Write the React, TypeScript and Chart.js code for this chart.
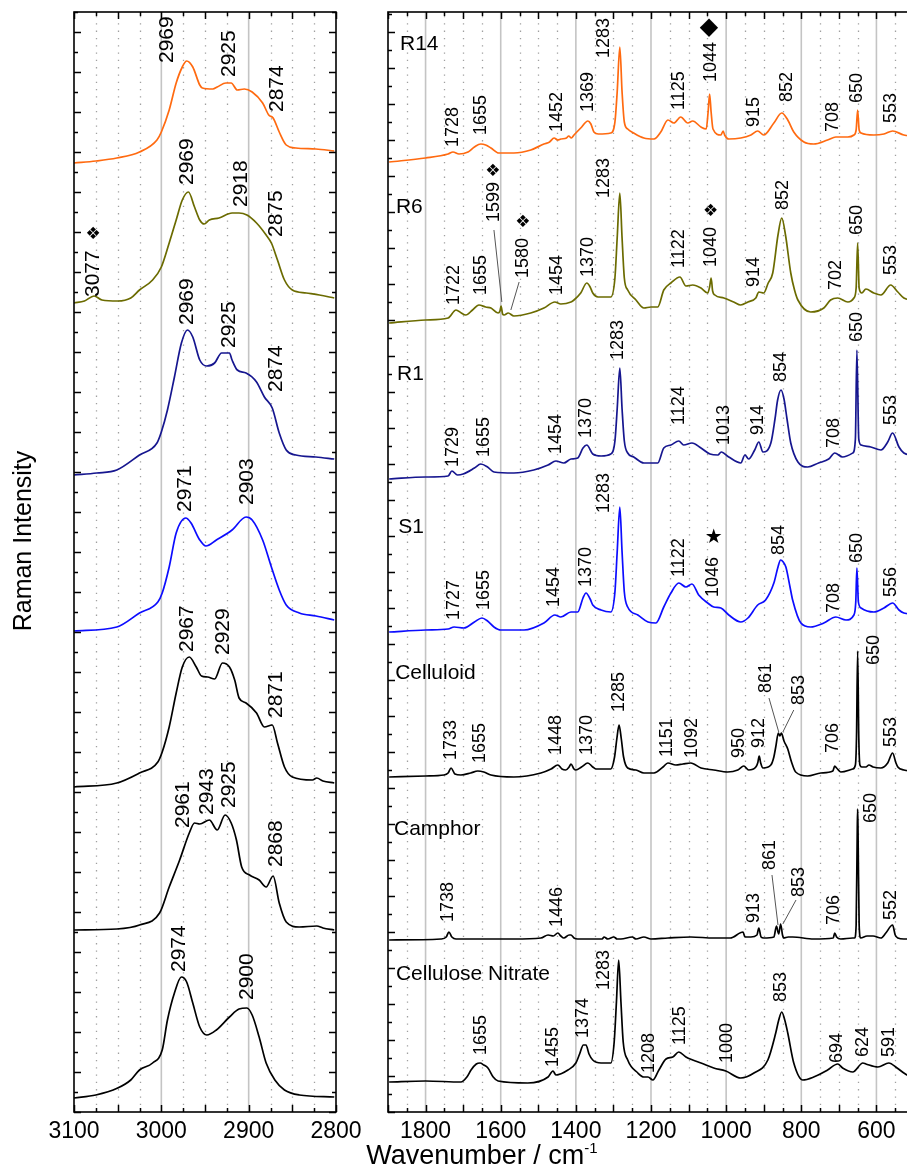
import React, { useEffect, useRef } from "react";
import { Chart, registerables } from "chart.js";
Chart.register(...registerables);

type Pt = [number, number];
type Label = [number, number, string];
type Marker = [number, number, string, number];
type Leader = [number, number, number, number];

const SANS = '"Liberation Sans", Arial, Helvetica, sans-serif';
const SYM = '"DejaVu Sans", sans-serif';

// ---------- shared sample info ----------
const samples = ["R14", "R6", "R1", "S1", "Celluloid", "Camphor", "Cellulose Nitrate"];
const sampleColors = ["#ff6a10", "#6b6b00", "#16168f", "#0c0cff", "#000000", "#000000", "#000000"];

// ---------- left panel: C-H stretching region ----------
const chXRange = [2800, 3100];
const chTickLabels = [3100, 3000, 2900, 2800];
const chMajorGrid = [3000, 2900];
const chOffsets = [949, 807, 637, 481, 325, 182, 14];

const chR14: Pt[] = [[3100,0],[3075,2],[3051,5],[3025,11],[3005,23],[3000,31],[2991,53],[2983,80],[2976,96],[2971,102],[2964,96],[2956,78],[2953,75],[2941,74],[2936,76],[2926,80],[2920,80],[2913,73],[2905,74],[2896,71],[2884,60],[2877,48],[2872,45],[2865,31],[2857,18],[2846,15],[2823,14],[2802,12]];
const chR6: Pt[] = [[3100,2],[3088,4],[3077,9],[3068,5],[3050,4],[3035,7],[3025,15],[3010,25],[3000,38],[2991,62],[2983,85],[2976,105],[2969,113],[2962,98],[2956,85],[2951,81],[2945,85],[2934,87],[2919,92],[2911,92],[2902,90],[2891,82],[2880,70],[2874,62],[2867,45],[2859,25],[2850,15],[2834,12],[2819,10],[2802,7]];
const chR1: Pt[] = [[3100,0],[3074,2],[3051,5],[3025,20],[3005,32],[3000,43],[2993,65],[2985,98],[2977,132],[2970,145],[2964,138],[2956,115],[2948,109],[2939,112],[2931,122],[2922,122],[2919,115],[2913,105],[2903,102],[2891,93],[2882,78],[2873,67],[2865,42],[2857,25],[2846,20],[2823,18],[2802,16]];
const chS1: Pt[] = [[3100,0],[3051,4],[3025,18],[3004,29],[2999,38],[2991,64],[2983,98],[2972,113],[2966,108],[2956,91],[2949,85],[2937,91],[2919,101],[2903,114],[2896,111],[2884,91],[2874,64],[2865,41],[2857,26],[2842,18],[2823,15],[2802,11]];
const chCelluloid: Pt[] = [[3100,0],[3051,4],[3025,14],[3004,25],[2999,35],[2991,60],[2983,94],[2976,120],[2968,130],[2960,120],[2954,111],[2947,110],[2939,108],[2930,124],[2922,120],[2916,107],[2911,89],[2903,84],[2891,74],[2882,60],[2873,62],[2867,44],[2859,20],[2850,10],[2827,7],[2822,9],[2815,6],[2802,4]];
const chCamphor: Pt[] = [[3100,0],[3051,1],[3025,5],[3002,17],[2991,43],[2979,70],[2968,97],[2962,107],[2956,106],[2945,110],[2936,100],[2927,115],[2920,107],[2914,90],[2908,63],[2899,55],[2888,50],[2880,43],[2872,54],[2865,27],[2857,8],[2842,3],[2822,4],[2815,2],[2802,0]];
const chNitrate: Pt[] = [[3100,0],[3075,3],[3050,10],[3035,18],[3025,28],[3010,35],[2999,48],[2993,78],[2985,105],[2977,121],[2971,116],[2964,95],[2956,71],[2948,63],[2937,68],[2922,81],[2911,89],[2902,90],[2896,83],[2888,61],[2880,35],[2870,18],[2859,8],[2842,3],[2802,1]];
const chSpectra = [chR14, chR6, chR1, chS1, chCelluloid, chCamphor, chNitrate];

const chPeakLabels: Label[] = [
  [2993,1049,"2969"],[2922,1035,"2925"],[2867,1000,"2874"],
  [2970,927,"2969"],[2908,905,"2918"],[2869,875,"2875"],[3078,815,"3077"],
  [2970,787,"2969"],[2922,764,"2925"],[2869,720,"2874"],
  [2973,600,"2971"],[2902,607,"2903"],
  [2970,460,"2967"],[2929,457,"2929"],[2869,394,"2871"],
  [2975,284,"2961"],[2948,297,"2943"],[2922,304,"2925"],[2869,245,"2868"],
  [2979,140,"2974"],[2902,112,"2900"],
];
const chMarkers: Marker[] = [[3078, 877, "\u2756", 17]];

// ---------- right panel: fingerprint region ----------
const fpXRange = [500, 1900];
const fpTickLabels = [1800, 1600, 1400, 1200, 1000, 800, 600];
const fpMajorGrid = [1800, 1600, 1400, 1200, 1000, 800, 600];
const fpOffsets = [950, 789, 633, 480, 335, 172, 30];

const fpR14: Pt[] = [[1897,0],[1800,4],[1740,8],[1727,10],[1711,8],[1687,10],[1670,15],[1653,18],[1640,17],[1626,14],[1605,9],[1565,9],[1520,12],[1485,18],[1470,20],[1458,24],[1448,22],[1440,23],[1425,24],[1419,26],[1412,24],[1405,27],[1387,34],[1368,41],[1360,38],[1352,30],[1340,28],[1307,29],[1296,40],[1290,70],[1283,115],[1277,70],[1271,40],[1262,33],[1246,29],[1219,24],[1192,23],[1174,30],[1155,42],[1139,39],[1121,45],[1102,39],[1089,41],[1067,35],[1053,33],[1048,50],[1044,68],[1040,50],[1035,33],[1014,27],[1008,31],[1004,27],[993,23],[961,24],[934,27],[916,31],[900,27],[873,39],[852,49],[836,42],[820,30],[793,20],[767,18],[730,22],[708,25],[676,25],[660,27],[654,32],[650,52],[646,32],[641,29],[607,27],[580,28],[557,31],[527,27],[505,26]];
const fpR6: Pt[] = [[1897,0],[1800,3],[1740,5],[1719,13],[1705,10],[1693,8],[1675,13],[1658,18],[1640,16],[1626,15],[1607,10],[1602,12],[1599,17],[1595,9],[1591,8],[1580,10],[1565,7],[1520,10],[1485,15],[1456,21],[1440,19],[1413,21],[1405,23],[1387,30],[1371,40],[1362,36],[1355,30],[1341,26],[1307,26],[1296,45],[1290,85],[1283,130],[1277,85],[1271,45],[1262,33],[1240,23],[1219,15],[1200,16],[1182,16],[1166,33],[1147,40],[1123,46],[1107,37],[1089,38],[1067,35],[1049,30],[1044,36],[1040,45],[1036,32],[1030,28],[1006,25],[980,21],[961,18],[942,21],[921,25],[913,31],[900,30],[888,40],[876,50],[862,88],[852,105],[842,88],[828,50],[818,33],[809,23],[775,11],[740,15],[722,23],[703,25],[676,21],[660,25],[654,35],[650,80],[646,35],[639,30],[628,34],[607,30],[588,28],[562,38],[543,31],[527,25],[505,23]];
const fpR1: Pt[] = [[1897,0],[1800,2],[1740,3],[1730,8],[1715,4],[1700,5],[1670,11],[1653,15],[1635,12],[1618,7],[1565,6],[1512,9],[1474,14],[1453,18],[1432,16],[1413,20],[1395,21],[1381,31],[1371,34],[1355,25],[1333,23],[1307,25],[1296,38],[1290,70],[1283,111],[1277,70],[1271,38],[1262,26],[1246,22],[1219,16],[1182,16],[1166,31],[1147,34],[1126,38],[1113,34],[1091,36],[1067,31],[1043,25],[1022,24],[1013,27],[993,22],[961,16],[950,24],[940,20],[924,29],[913,37],[902,27],[881,36],[870,60],[863,79],[854,89],[846,80],[838,60],[828,36],[809,17],[783,12],[754,16],[727,20],[711,26],[690,22],[663,26],[656,40],[652,129],[647,40],[641,34],[615,32],[588,29],[570,37],[557,46],[540,32],[527,26],[505,24]];
const fpS1: Pt[] = [[1897,0],[1800,2],[1740,3],[1724,5],[1698,4],[1670,10],[1650,14],[1635,11],[1618,5],[1600,2],[1538,2],[1485,9],[1456,17],[1440,15],[1413,20],[1395,20],[1381,34],[1373,39],[1362,33],[1355,27],[1333,22],[1307,20],[1296,40],[1290,80],[1283,125],[1277,80],[1271,40],[1262,25],[1235,17],[1208,10],[1187,9],[1166,25],[1147,39],[1126,49],[1107,45],[1091,48],[1073,37],[1049,29],[1033,25],[1014,24],[993,17],[961,10],[942,14],[916,27],[895,32],[873,49],[862,65],[855,72],[848,70],[841,65],[830,45],[823,32],[801,9],[775,5],[740,9],[708,15],[681,12],[660,17],[655,30],[652,64],[648,30],[641,24],[607,20],[580,24],[557,29],[540,22],[527,19],[505,18]];
const fpCelluloid: Pt[] = [[1897,0],[1800,1],[1751,2],[1740,4],[1732,9],[1722,3],[1706,2],[1680,4],[1661,6],[1645,5],[1626,2],[1565,0],[1493,4],[1466,8],[1448,12],[1437,8],[1427,7],[1418,10],[1413,13],[1405,8],[1400,7],[1385,10],[1368,14],[1355,10],[1347,8],[1307,8],[1297,20],[1291,38],[1285,52],[1279,38],[1273,20],[1262,9],[1240,7],[1219,4],[1192,4],[1168,10],[1155,14],[1134,12],[1115,13],[1094,14],[1067,9],[1033,7],[996,5],[969,7],[953,11],[940,7],[921,10],[916,14],[912,21],[908,14],[902,9],[881,12],[873,20],[868,30],[861,44],[857,41],[853,44],[846,36],[836,28],[826,15],[815,5],[783,1],[748,4],[716,6],[711,11],[706,9],[695,5],[663,8],[656,12],[653,40],[650,126],[647,40],[644,12],[639,10],[628,10],[620,12],[609,10],[588,9],[570,14],[557,24],[548,14],[543,10],[527,7],[505,6]];
const fpCamphor: Pt[] = [[1897,0],[1759,1],[1745,3],[1738,8],[1730,3],[1719,1],[1565,1],[1493,2],[1474,5],[1460,4],[1448,7],[1440,4],[1432,2],[1418,5],[1413,5],[1405,2],[1395,1],[1330,1],[1325,3],[1315,1],[1299,3],[1290,1],[1280,1],[1250,3],[1240,1],[1219,3],[1200,1],[1155,2],[1094,3],[1033,2],[989,2],[955,8],[950,3],[934,3],[918,5],[913,12],[907,3],[900,2],[873,3],[866,14],[862,8],[860,6],[855,16],[850,5],[847,2],[835,3],[823,3],[767,1],[715,2],[711,7],[706,3],[695,1],[663,2],[658,2],[654,15],[651,110],[650,131],[649,110],[646,15],[642,2],[625,4],[609,4],[588,2],[575,7],[557,15],[550,5],[543,2],[527,1],[505,1]];
const fpNitrate: Pt[] = [[1897,0],[1800,1],[1706,0],[1690,5],[1679,12],[1665,18],[1655,19],[1645,17],[1634,14],[1620,5],[1607,1],[1528,-1],[1474,5],[1461,11],[1453,7],[1421,12],[1400,19],[1390,28],[1380,37],[1373,37],[1365,28],[1355,22],[1333,19],[1307,19],[1298,40],[1292,80],[1286,122],[1280,80],[1274,40],[1262,22],[1235,9],[1219,5],[1208,5],[1195,2],[1179,12],[1160,23],[1142,25],[1126,30],[1107,25],[1089,22],[1067,19],[1033,14],[1001,11],[961,4],[926,9],[889,22],[868,49],[860,62],[852,70],[844,62],[836,49],[820,19],[796,2],[767,5],[730,12],[703,18],[690,14],[663,10],[636,19],[628,18],[596,15],[567,19],[545,14],[527,9],[505,4]];
const fpSpectra = [fpR14, fpR6, fpR1, fpS1, fpCelluloid, fpCamphor, fpNitrate];

const fpPeakLabels: Label[] = [
  [1727,965,"1728"],[1653,977,"1655"],[1450,980,"1452"],[1368,1000,"1369"],[1325,1054,"1283"],[1126,1002,"1125"],[1041,1030,"1044"],[926,985,"915"],[838,1010,"852"],[716,980,"708"],[652,1009,"650"],[562,989,"553"],
  [1724,807,"1722"],[1653,817,"1655"],[1618,890,"1599"],[1541,834,"1580"],[1450,817,"1454"],[1368,835,"1370"],[1325,914,"1283"],[1126,844,"1122"],[1041,845,"1040"],[926,825,"914"],[849,902,"852"],[708,822,"702"],[652,877,"650"],[562,837,"553"],
  [1727,645,"1729"],[1645,655,"1655"],[1453,658,"1454"],[1373,674,"1370"],[1288,752,"1283"],[1126,687,"1124"],[1006,667,"1013"],[916,677,"914"],[855,730,"854"],[713,664,"708"],[652,770,"650"],[562,687,"553"],
  [1724,492,"1727"],[1645,502,"1655"],[1458,505,"1454"],[1373,525,"1370"],[1325,599,"1283"],[1126,535,"1122"],[1035,515,"1046"],[860,557,"854"],[713,499,"708"],[652,549,"650"],[562,515,"556"],
  [1732,352,"1733"],[1655,349,"1655"],[1453,357,"1448"],[1371,357,"1370"],[1285,400,"1285"],[1158,355,"1151"],[1091,354,"1092"],[966,354,"950"],[913,364,"912"],[894,419,"861"],[806,407,"853"],[716,359,"706"],[607,447,"650"],[562,365,"553"],
  [1740,190,"1738"],[1450,185,"1446"],[926,189,"913"],[884,242,"861"],[806,215,"853"],[713,187,"706"],[615,289,"650"],[562,192,"552"],
  [1653,57,"1655"],[1461,45,"1455"],[1381,74,"1374"],[1325,122,"1283"],[1205,39,"1208"],[1123,67,"1125"],[998,49,"1000"],[855,110,"853"],[705,49,"694"],[636,55,"624"],[567,55,"591"],
];
const fpMarkers: Marker[] = [
  [1046,1084,"\u25C6",24],[1621,940,"\u2756",17],[1541,889,"\u2756",17],[1041,900,"\u2756",17],[1033,574,"\u2605",20],
];
const fpLeaders: Leader[] = [
  [1618,882,1597,810],[1551,830,1573,802],
  [886,414,860,380],[820,402,849,380],
  [878,237,862,187],[814,212,849,188],
];
const fpNamePos: Pt[] = [[1868,1062],[1879,899],[1876,732],[1873,579],[1881,433],[1884,277],[1879,132]];

// ---------- drawing helpers ----------
type Decor = {
  minorStep: number;
  majorTickEvery: number;
  majorGrid: number[];
  yTickStep: number;
  labels: Label[];
  labelSize: number;
  markers: Marker[];
  leaders: Leader[];
  names: Label[];
};

function makeDecor(d: Decor) {
  return {
    id: "decor",
    beforeDatasetsDraw(chart: any) {
      const { ctx, chartArea: a } = chart;
      const x = chart.scales.x;
      const lo = Math.min(x.min, x.max);
      const hi = Math.max(x.min, x.max);
      ctx.save();
      ctx.beginPath();
      ctx.rect(a.left, a.top, a.right - a.left, a.bottom - a.top);
      ctx.clip();
      ctx.strokeStyle = "#a0a0a0";
      ctx.lineWidth = 1.3;
      ctx.setLineDash([1.3, 6]);
      for (let v = lo + d.minorStep; v < hi; v += d.minorStep) {
        if (d.majorGrid.includes(v)) continue;
        const px = Math.round(x.getPixelForValue(v)) + 0.5;
        ctx.beginPath();
        ctx.moveTo(px, a.top + 4);
        ctx.lineTo(px, a.bottom);
        ctx.stroke();
      }
      ctx.setLineDash([]);
      ctx.strokeStyle = "#c4c4c4";
      ctx.lineWidth = 1.6;
      for (const v of d.majorGrid) {
        const px = x.getPixelForValue(v);
        ctx.beginPath();
        ctx.moveTo(px, a.top);
        ctx.lineTo(px, a.bottom);
        ctx.stroke();
      }
      ctx.restore();
    },
    afterDatasetsDraw(chart: any) {
      const { ctx, chartArea: a } = chart;
      const x = chart.scales.x;
      const y = chart.scales.y;
      const lo = Math.min(x.min, x.max);
      const hi = Math.max(x.min, x.max);
      ctx.save();
      ctx.strokeStyle = "#000";
      ctx.lineWidth = 1.5;
      for (let v = lo; v <= hi; v += d.minorStep) {
        const px = Math.round(x.getPixelForValue(v)) + 0.5;
        const len = v % d.majorTickEvery === 0 ? 7 : 4;
        ctx.beginPath();
        ctx.moveTo(px, a.bottom);
        ctx.lineTo(px, a.bottom - len);
        ctx.moveTo(px, a.top);
        ctx.lineTo(px, a.top + len);
        ctx.stroke();
      }
      for (let v = 0, i = 0; v <= y.max; v += d.yTickStep, i++) {
        const py = Math.round(y.getPixelForValue(v)) + 0.5;
        const len = i % 2 === 0 ? 7 : 4;
        ctx.beginPath();
        ctx.moveTo(a.left, py);
        ctx.lineTo(a.left + len, py);
        ctx.moveTo(a.right, py);
        ctx.lineTo(a.right - len, py);
        ctx.stroke();
      }
      ctx.lineWidth = 1.6;
      ctx.strokeRect(a.left, a.top, a.right - a.left, a.bottom - a.top);

      ctx.strokeStyle = "#555";
      ctx.lineWidth = 1;
      for (const [w1, v1, w2, v2] of d.leaders) {
        ctx.beginPath();
        ctx.moveTo(x.getPixelForValue(w1), y.getPixelForValue(v1));
        ctx.lineTo(x.getPixelForValue(w2), y.getPixelForValue(v2));
        ctx.stroke();
      }

      ctx.fillStyle = "#000";
      ctx.font = `${d.labelSize}px ${SANS}`;
      for (const [w, v, t] of d.labels) {
        ctx.save();
        ctx.translate(x.getPixelForValue(w), y.getPixelForValue(v));
        ctx.rotate(-Math.PI / 2);
        ctx.textAlign = "left";
        ctx.textBaseline = "middle";
        ctx.fillText(t, 0, 0);
        ctx.restore();
      }
      for (const [w, v, s, size] of d.markers) {
        ctx.font = `${size}px ${SYM}`;
        ctx.textAlign = "center";
        ctx.textBaseline = "middle";
        ctx.fillText(s, x.getPixelForValue(w), y.getPixelForValue(v));
      }
      ctx.font = `21px ${SANS}`;
      ctx.textAlign = "left";
      ctx.textBaseline = "alphabetic";
      for (const [w, v, t] of d.names) {
        ctx.fillText(t, x.getPixelForValue(w), y.getPixelForValue(v));
      }
      ctx.restore();
    },
  };
}

type PanelProps = {
  left: number;
  width: number;
  yAxisWidth: number;
  padRight: number;
  spectra: Pt[][];
  offsets: number[];
  range: number[];
  step: number;
  tickLabels: number[];
  decor: Decor;
};

function Panel(p: PanelProps) {
  const ref = useRef<HTMLCanvasElement>(null);
  useEffect(() => {
    const datasets = p.spectra.map((pts, i) => ({
      label: samples[i],
      data: pts.map(([w, v]) => ({ x: w, y: v + p.offsets[i] })),
      borderColor: sampleColors[i],
      borderWidth: 1.7,
      pointRadius: 0,
      fill: false,
      cubicInterpolationMode: "monotone" as const,
    }));
    const chart = new Chart(ref.current as HTMLCanvasElement, {
      type: "line",
      data: { datasets },
      options: {
        animation: false,
        responsive: false,
        maintainAspectRatio: false,
        events: [],
        layout: { padding: { top: 12, right: p.padRight, left: 0, bottom: 0 } },
        plugins: { legend: { display: false }, tooltip: { enabled: false } },
        scales: {
          x: {
            type: "linear",
            reverse: true,
            min: p.range[0],
            max: p.range[1],
            grid: { display: false, drawTicks: false },
            border: { display: false },
            ticks: {
              stepSize: p.step,
              autoSkip: false,
              maxRotation: 0,
              minRotation: 0,
              padding: 6,
              color: "#000",
              font: { size: 23, family: SANS },
              callback: (v: any) => (p.tickLabels.includes(Number(v)) ? String(v) : ""),
            },
            afterFit: (s: any) => {
              s.height = 61;
            },
          },
          y: {
            type: "linear",
            min: 0,
            max: 1100,
            grid: { display: false, drawTicks: false },
            border: { display: false },
            ticks: { display: false },
            afterFit: (s: any) => {
              s.width = p.yAxisWidth;
            },
          },
        },
      } as any,
      plugins: [makeDecor(p.decor)],
    });
    return () => chart.destroy();
  }, []);
  return (
    <canvas
      ref={ref}
      width={p.width}
      height={1173}
      style={{ position: "absolute", left: p.left, top: 0, width: p.width, height: 1173 }}
    />
  );
}

export default function App() {
  const fpNames: Label[] = fpNamePos.map(([w, v], i) => [w, v, samples[i]]);
  return (
    <div
      style={{
        position: "fixed",
        left: 0,
        top: 0,
        width: 907,
        height: 1173,
        overflow: "hidden",
        background: "#fff",
        fontFamily: SANS,
      }}
    >
      <Panel
        left={0}
        width={400}
        yAxisWidth={74}
        padRight={64}
        spectra={chSpectra}
        offsets={chOffsets}
        range={chXRange}
        step={25}
        tickLabels={chTickLabels}
        decor={{
          minorStep: 25,
          majorTickEvery: 50,
          majorGrid: chMajorGrid,
          yTickStep: 20,
          labels: chPeakLabels,
          labelSize: 21,
          markers: chMarkers,
          leaders: [],
          names: [],
        }}
      />
      <Panel
        left={300}
        width={660}
        yAxisWidth={88}
        padRight={46}
        spectra={fpSpectra}
        offsets={fpOffsets}
        range={fpXRange}
        step={50}
        tickLabels={fpTickLabels}
        decor={{
          minorStep: 50,
          majorTickEvery: 100,
          majorGrid: fpMajorGrid,
          yTickStep: 18,
          labels: fpPeakLabels,
          labelSize: 18,
          markers: fpMarkers,
          leaders: fpLeaders,
          names: fpNames,
        }}
      />
      <div
        style={{
          position: "absolute",
          left: -103,
          top: 526,
          width: 250,
          height: 30,
          lineHeight: "30px",
          fontSize: 25,
          textAlign: "center",
          transform: "rotate(-90deg)",
          color: "#000",
        }}
      >
        Raman Intensity
      </div>
      <div
        style={{
          position: "absolute",
          left: 282,
          top: 1142,
          width: 400,
          fontSize: 27,
          lineHeight: 1,
          textAlign: "center",
          color: "#000",
        }}
      >
        Wavenumber / cm<sup style={{ fontSize: 15, verticalAlign: "top", position: "relative", top: -2 }}>-1</sup>
      </div>
    </div>
  );
}
